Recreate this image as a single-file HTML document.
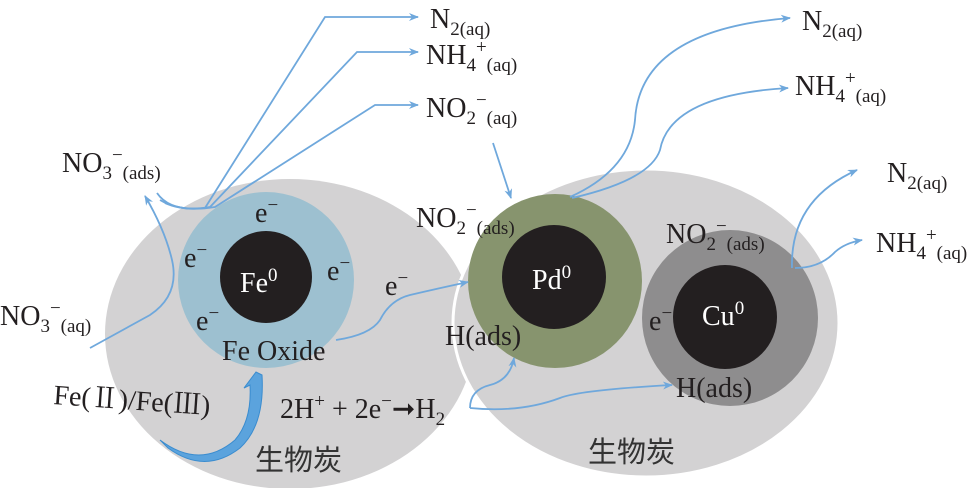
<!DOCTYPE html>
<html><head><meta charset="utf-8"><style>
html,body{margin:0;padding:0;background:#fff;}
svg{display:block;}
text{font-family:"Liberation Serif","Noto Serif CJK SC",serif;fill:#231f20;}
.s{font-size:19px;}
.c{font-family:"Noto Sans CJK SC",sans-serif;fill:#333;font-size:29px;}
</style></head><body>
<svg width="976" height="488" viewBox="0 0 976 488" xmlns="http://www.w3.org/2000/svg">
<defs>
<marker id="a" markerWidth="10" markerHeight="8" refX="9" refY="4" orient="auto" markerUnits="userSpaceOnUse">
<path d="M0,0 L10,4 L0,8 L3,4 Z" fill="#6fa8dc"/></marker>
</defs>
<ellipse cx="290" cy="334" rx="185" ry="155" fill="#d3d2d3"/>
<ellipse cx="646" cy="323" rx="193" ry="154" fill="#d3d2d3" stroke="#fff" stroke-width="3"/>
<circle cx="266" cy="280" r="88" fill="#9dc0d0"/>
<circle cx="266" cy="277" r="46" fill="#231f20"/>
<circle cx="555" cy="281" r="87" fill="#87946e"/>
<circle cx="554" cy="277" r="52" fill="#231f20"/>
<circle cx="730" cy="318" r="88" fill="#8e8d8e"/>
<circle cx="725" cy="317" r="52" fill="#231f20"/>

<g fill="none" stroke="#6fa8dc" stroke-width="1.8">
<path d="M157,193 Q170,212 205,208 L325,17 L418,17" marker-end="url(#a)"/>
<path d="M160,200 Q180,212 210,207 L357,52 L418,52" marker-end="url(#a)"/>
<path d="M165,203 Q185,212 215,207 L375,105 L418,105" marker-end="url(#a)"/>
<path d="M90,348 L150,315 Q180,295 172,260 Q165,230 145,196" marker-end="url(#a)"/>
<path d="M493,143 L511,198" marker-end="url(#a)"/>
<path d="M570,197 Q630,170 635,120 Q640,30 790,18" marker-end="url(#a)"/>
<path d="M572,198 Q650,180 660,150 Q670,95 788,88" marker-end="url(#a)"/>
<path d="M792,268 Q790,200 857,170" marker-end="url(#a)"/>
<path d="M795,268 Q820,268 835,252 Q845,243 862,240" marker-end="url(#a)"/>
<path d="M336,340 Q370,335 380,320 Q390,300 410,295 Q440,288 468,282" marker-end="url(#a)"/>
<path d="M470,408 Q470,390 490,385 Q510,380 514,358" marker-end="url(#a)"/>
<path d="M470,408 Q520,413 560,398 Q580,390 672,385" marker-end="url(#a)"/>
</g>
<path d="M160,440 Q200,470 235,440 Q252,420 250,385 L244,388 L256,372 L262,375 Q265,425 240,448 Q205,475 168,448 Z" fill="#5ba3dd" stroke="#3a8ccf" stroke-width="1"/>

<g font-size="28">
<text x="430" y="28">N<tspan class="s" dy="7">2(aq)</tspan></text>
<text x="426" y="64">NH<tspan class="s" dy="7">4</tspan><tspan class="s" dy="-18">+</tspan><tspan class="s" dy="18">(aq)</tspan></text>
<text x="426" y="117">NO<tspan class="s" dy="7">2</tspan><tspan class="s" dy="-18">−</tspan><tspan class="s" dy="18">(aq)</tspan></text>
<text x="62" y="172">NO<tspan class="s" dy="7">3</tspan><tspan class="s" dy="-18">−</tspan><tspan class="s" dy="18">(ads)</tspan></text>
<text x="0" y="325">NO<tspan class="s" dy="7">3</tspan><tspan class="s" dy="-18">−</tspan><tspan class="s" dy="18">(aq)</tspan></text>
<text x="255" y="222">e<tspan class="s" dy="-11">−</tspan></text>
<text x="184" y="267">e<tspan class="s" dy="-11">−</tspan></text>
<text x="327" y="280">e<tspan class="s" dy="-11">−</tspan></text>
<text x="196" y="330">e<tspan class="s" dy="-11">−</tspan></text>
<text x="385" y="295">e<tspan class="s" dy="-11">−</tspan></text>
<text x="240" y="292" style="fill:#fff">Fe<tspan class="s" dy="-11">0</tspan></text>
<text x="222" y="360">Fe Oxide</text>
<text x="53" y="404" transform="rotate(4 53 404)">Fe(Ⅱ)/Fe(Ⅲ)</text>
<text x="280" y="418">2H<tspan class="s" dy="-11">+</tspan><tspan dy="11"> + 2e</tspan><tspan class="s" dy="-11">−</tspan><tspan dy="11">➞H</tspan><tspan class="s" dy="7">2</tspan></text>
<text x="255" y="470" class="c">生物炭</text>
<text x="588" y="462" class="c">生物炭</text>
<text x="416" y="227">NO<tspan class="s" dy="7">2</tspan><tspan class="s" dy="-18">−</tspan><tspan class="s" dy="18">(ads)</tspan></text>
<text x="532" y="289" style="fill:#fff">Pd<tspan class="s" dy="-11">0</tspan></text>
<text x="445" y="345">H(ads)</text>
<text x="666" y="243">NO<tspan class="s" dy="7">2</tspan><tspan class="s" dy="-18">−</tspan><tspan class="s" dy="18">(ads)</tspan></text>
<text x="649" y="330">e<tspan class="s" dy="-11">−</tspan></text>
<text x="702" y="325" style="fill:#fff">Cu<tspan class="s" dy="-11">0</tspan></text>
<text x="676" y="397">H(ads)</text>
<text x="802" y="30">N<tspan class="s" dy="7">2(aq)</tspan></text>
<text x="795" y="95">NH<tspan class="s" dy="7">4</tspan><tspan class="s" dy="-18">+</tspan><tspan class="s" dy="18">(aq)</tspan></text>
<text x="887" y="182">N<tspan class="s" dy="7">2(aq)</tspan></text>
<text x="876" y="252">NH<tspan class="s" dy="7">4</tspan><tspan class="s" dy="-18">+</tspan><tspan class="s" dy="18">(aq)</tspan></text>
</g>
</svg>
</body></html>
